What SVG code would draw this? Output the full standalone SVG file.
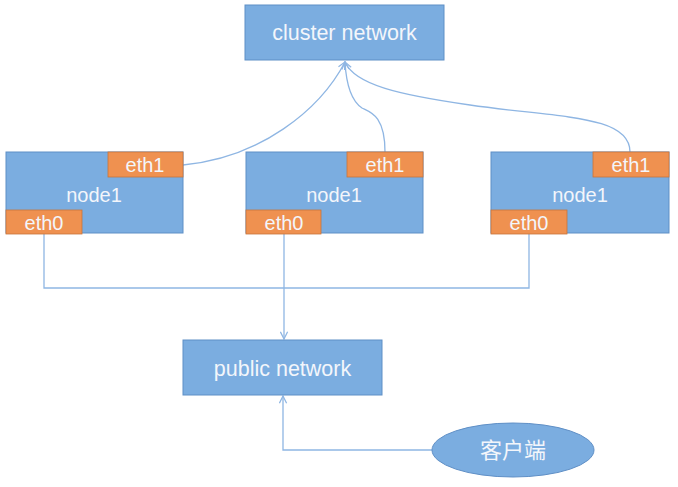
<svg xmlns="http://www.w3.org/2000/svg" width="678" height="487" viewBox="0 0 678 487">
<defs>
<style>
.box{fill:#7badE0;stroke:#5f8fc6;stroke-width:1}
.eth{fill:#ef9150;stroke:#c9743a;stroke-width:0.8}
.t{font-family:"Liberation Sans","Noto Sans CJK SC",sans-serif;fill:#f3f6fb;text-anchor:middle}
.big{font-size:21.5px}
.mid{font-size:20px}
.cjk{font-size:22px}
.con{fill:none;stroke:#8fb6e3;stroke-width:1.3}
</style>
<marker id="arr" viewBox="0 0 10 10" refX="9" refY="5" markerWidth="9" markerHeight="9" orient="auto" markerUnits="userSpaceOnUse">
<path d="M1,1 L9,5 L1,9" fill="none" stroke="#8fb6e3" stroke-width="1.4"/>
</marker>
</defs>
<rect width="678" height="487" fill="#ffffff"/>
<g id="connectors">
<path class="con" d="M183,165 C260,158 320,110 345,62" marker-end="url(#arr)"/>
<path class="con" d="M385,152 C385,115 370,112 362,108 C350,100 346,80 345,62" marker-end="url(#arr)"/>
<path class="con" d="M630,152 C630,115 560,118 470,105 C400,95 355,85 345,62" marker-end="url(#arr)"/>
<path class="con" d="M44,234 L44,288 L529,288 L529,234"/>
<path class="con" d="M284,234 L284,339" marker-end="url(#arr)"/>
<path class="con" d="M432,450 L283,450 L283,396" marker-end="url(#arr)"/>
</g>
<g id="cluster">
<rect class="box" x="245" y="5" width="199" height="55"/>
<text class="t big" x="344.5" y="40">cluster network</text>
</g>
<g id="node1a">
<rect class="box" x="6" y="152" width="177" height="81"/>
<text class="t mid" x="94" y="202">node1</text>
<rect class="eth" x="108" y="152" width="75" height="25"/>
<text class="t mid" x="145" y="172">eth1</text>
<rect class="eth" x="6" y="210" width="76" height="24"/>
<text class="t mid" x="44" y="230">eth0</text>
</g>
<g id="node1b">
<rect class="box" x="246" y="152" width="177" height="81"/>
<text class="t mid" x="334" y="202">node1</text>
<rect class="eth" x="347" y="152" width="76" height="25"/>
<text class="t mid" x="385" y="172">eth1</text>
<rect class="eth" x="246" y="210" width="75" height="24"/>
<text class="t mid" x="284" y="230">eth0</text>
</g>
<g id="node1c">
<rect class="box" x="491" y="152" width="178" height="81"/>
<text class="t mid" x="580" y="202">node1</text>
<rect class="eth" x="593" y="152" width="76" height="25"/>
<text class="t mid" x="631" y="172">eth1</text>
<rect class="eth" x="491" y="210" width="76" height="24"/>
<text class="t mid" x="529" y="230">eth0</text>
</g>
<g id="public">
<rect class="box" x="183" y="340" width="199" height="55"/>
<text class="t big" x="282.5" y="376">public network</text>
</g>
<g id="client">
<ellipse class="box" cx="513" cy="450" rx="81" ry="27"/>
<text class="t cjk" x="513" y="458">客户端</text>
</g>
</svg>
